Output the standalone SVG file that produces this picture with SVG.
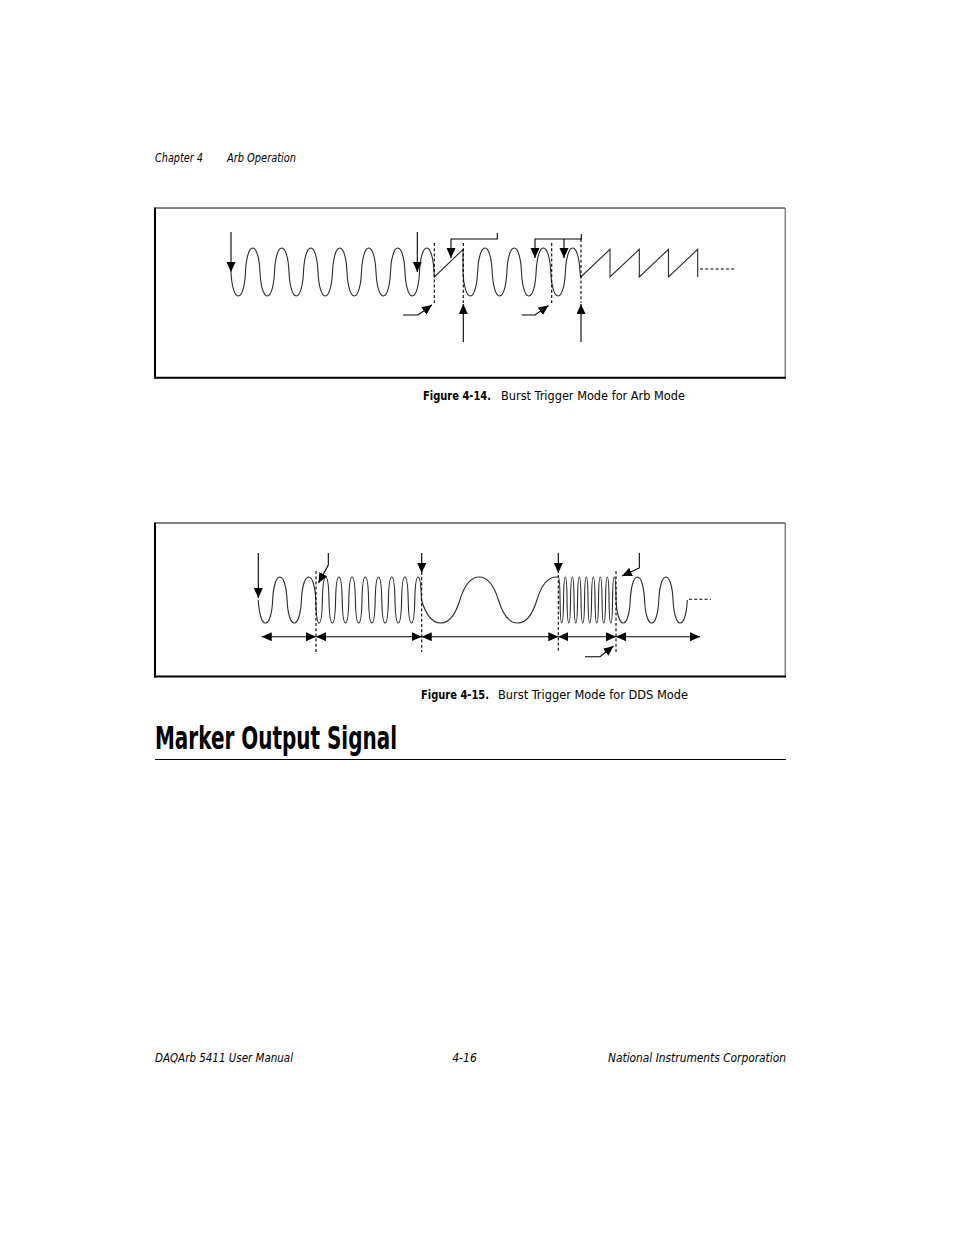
<svg xmlns="http://www.w3.org/2000/svg" width="954" height="1235" viewBox="0 0 954 1235">
<style>
.txt{font-family:"Liberation Sans Narrow","DejaVu Sans Condensed","Liberation Sans",sans-serif;fill:#000}
.it{font-style:italic;font-size:12px}
.cap{font-size:12.5px}
.b{font-weight:bold}
.wave{fill:none;stroke:#2a2a2a;stroke-width:1.1}
.ln{fill:none;stroke:#000;stroke-width:1.1}
.dash{fill:none;stroke:#000;stroke-width:1.1;stroke-dasharray:3,2.2}
.arr{marker-end:url(#ah)}
.dim{marker-start:url(#ahs);marker-end:url(#ah)}
</style>
<defs>
<marker id="ah" markerUnits="userSpaceOnUse" markerWidth="11" markerHeight="10" refX="10" refY="4.5" orient="auto"><path d="M0,0L10,4.5L0,9z" fill="#000"/></marker>
<marker id="ahs" markerUnits="userSpaceOnUse" markerWidth="11" markerHeight="10" refX="10" refY="4.5" orient="auto-start-reverse"><path d="M0,0L10,4.5L0,9z" fill="#000"/></marker>
</defs>
<rect width="954" height="1235" fill="#fff"/>

<g id="header">
<text class="txt it" x="155" y="162" textLength="48" lengthAdjust="spacingAndGlyphs">Chapter 4</text>
<text class="txt it" x="227" y="162" textLength="69" lengthAdjust="spacingAndGlyphs">Arb Operation</text>
</g>

<g id="figure-4-14">
<line x1="155" y1="208" x2="785" y2="208" stroke="#000" stroke-width="1"/>
<line x1="785.2" y1="208" x2="785.2" y2="378" stroke="#444" stroke-width="1"/>
<line x1="155" y1="207.5" x2="155" y2="378.7" stroke="#000" stroke-width="2"/>
<line x1="154" y1="377.7" x2="786" y2="377.7" stroke="#000" stroke-width="2"/>
<path id="arb-waveform" class="wave" d="M231,272
c0.58,13.2 3.263,24 7.25,24 c3.988,0 6.67,-10.8 7.25,-24 c0.58,-13.2 3.263,-24 7.25,-24 c3.988,0 6.67,10.8 7.25,24
c0.58,13.2 3.263,24 7.25,24 c3.988,0 6.67,-10.8 7.25,-24 c0.58,-13.2 3.263,-24 7.25,-24 c3.988,0 6.67,10.8 7.25,24
c0.58,13.2 3.263,24 7.25,24 c3.988,0 6.67,-10.8 7.25,-24 c0.58,-13.2 3.263,-24 7.25,-24 c3.988,0 6.67,10.8 7.25,24
c0.58,13.2 3.263,24 7.25,24 c3.988,0 6.67,-10.8 7.25,-24 c0.58,-13.2 3.263,-24 7.25,-24 c3.988,0 6.67,10.8 7.25,24
c0.58,13.2 3.263,24 7.25,24 c3.988,0 6.67,-10.8 7.25,-24 c0.58,-13.2 3.263,-24 7.25,-24 c3.988,0 6.67,10.8 7.25,24
c0.58,13.2 3.263,24 7.25,24 c3.988,0 6.67,-10.8 7.25,-24 c0.58,-13.2 3.263,-24 7.25,-24 c3.988,0 6.67,10.8 7.25,24
c0.58,13.2 3.263,24 7.25,24 c3.988,0 6.67,-10.8 7.25,-24 c0.58,-13.2 3.263,-24 7.25,-24 c3.988,0 6.67,10.8 7.25,24
L434.3,277 L463,249.5 L463,272
c0.585,13.2 3.291,24 7.3125,24 c4.022,0 6.728,-10.8 7.3125,-24 c0.585,-13.2 3.291,-24 7.3125,-24 c4.022,0 6.728,10.8 7.3125,24
c0.585,13.2 3.291,24 7.3125,24 c4.022,0 6.728,-10.8 7.3125,-24 c0.585,-13.2 3.291,-24 7.3125,-24 c4.022,0 6.728,10.8 7.3125,24
c0.585,13.2 3.291,24 7.3125,24 c4.022,0 6.728,-10.8 7.3125,-24 c0.585,-13.2 3.291,-24 7.3125,-24 c4.022,0 6.728,10.8 7.3125,24
c0.585,13.2 3.291,24 7.3125,24 c4.022,0 6.728,-10.8 7.3125,-24 c0.585,-13.2 3.291,-24 7.3125,-24 c4.022,0 6.728,10.8 7.3125,24
L580.7,277 L610,249.3 L610,277 L639.3,249.3 L639.3,277 L668.5,249.3 L668.5,277 L697.7,249.3 L697.7,277"/>
<line class="dash" x1="700" y1="269" x2="736" y2="269"/>
</g>

<g id="figure-4-15">
<line x1="155" y1="523" x2="785" y2="523" stroke="#000" stroke-width="1"/>
<line x1="785.2" y1="523" x2="785.2" y2="677" stroke="#444" stroke-width="1"/>
<line x1="155" y1="522.5" x2="155" y2="677.5" stroke="#000" stroke-width="2"/>
<line x1="154" y1="676.5" x2="786" y2="676.5" stroke="#000" stroke-width="2"/>
<path id="dds-waveform" class="wave" d="M258.3,600
c0.575,12.65 3.234,23 7.1875,23 c3.953,0 6.613,-10.35 7.1875,-23 c0.575,-12.65 3.234,-23 7.1875,-23 c3.953,0 6.613,10.35 7.1875,23
c0.575,12.65 3.234,23 7.1875,23 c3.953,0 6.613,-10.35 7.1875,-23 c0.575,-12.65 3.234,-23 7.1875,-23 c3.953,0 6.613,10.35 7.1875,23
c0.264,12.65 1.485,23 3.3,23 c1.815,0 3.036,-10.35 3.3,-23 c0.264,-12.65 1.485,-23 3.3,-23 c1.815,0 3.036,10.35 3.3,23
c0.264,12.65 1.485,23 3.3,23 c1.815,0 3.036,-10.35 3.3,-23 c0.264,-12.65 1.485,-23 3.3,-23 c1.815,0 3.036,10.35 3.3,23
c0.264,12.65 1.485,23 3.3,23 c1.815,0 3.036,-10.35 3.3,-23 c0.264,-12.65 1.485,-23 3.3,-23 c1.815,0 3.036,10.35 3.3,23
c0.264,12.65 1.485,23 3.3,23 c1.815,0 3.036,-10.35 3.3,-23 c0.264,-12.65 1.485,-23 3.3,-23 c1.815,0 3.036,10.35 3.3,23
c0.264,12.65 1.485,23 3.3,23 c1.815,0 3.036,-10.35 3.3,-23 c0.264,-12.65 1.485,-23 3.3,-23 c1.815,0 3.036,10.35 3.3,23
c0.264,12.65 1.485,23 3.3,23 c1.815,0 3.036,-10.35 3.3,-23 c0.264,-12.65 1.485,-23 3.3,-23 c1.815,0 3.036,10.35 3.3,23
c0.264,12.65 1.485,23 3.3,23 c1.815,0 3.036,-10.35 3.3,-23 c0.264,-12.65 1.485,-23 3.3,-23 c1.815,0 3.036,10.35 3.3,23
c0.264,12.65 1.485,23 3.3,23 c1.815,0 3.036,-10.35 3.3,-23 c0.264,-12.65 1.485,-23 3.3,-23 c1.815,0 3.036,10.35 3.3,23
c3.85,12.65 9.625,23 19.25,23 c9.625,0 15.4,-10.35 19.25,-23 c3.85,-12.65 9.625,-23 19.25,-23 c9.625,0 15.4,10.35 19.25,23
c3.85,12.65 9.625,23 19.25,23 c9.625,0 15.4,-10.35 19.25,-23 c3.85,-12.65 9.625,-23 19.25,-23
L558.3,577
c0.963,0 1.61,10.35 1.75,23
c0.14,12.65 0.788,23 1.75,23 c0.963,0 1.61,-10.35 1.75,-23 c0.14,-12.65 0.788,-23 1.75,-23 c0.963,0 1.61,10.35 1.75,23
c0.14,12.65 0.788,23 1.75,23 c0.963,0 1.61,-10.35 1.75,-23 c0.14,-12.65 0.788,-23 1.75,-23 c0.963,0 1.61,10.35 1.75,23
c0.14,12.65 0.788,23 1.75,23 c0.963,0 1.61,-10.35 1.75,-23 c0.14,-12.65 0.788,-23 1.75,-23 c0.963,0 1.61,10.35 1.75,23
c0.14,12.65 0.788,23 1.75,23 c0.963,0 1.61,-10.35 1.75,-23 c0.14,-12.65 0.788,-23 1.75,-23 c0.963,0 1.61,10.35 1.75,23
c0.14,12.65 0.788,23 1.75,23 c0.963,0 1.61,-10.35 1.75,-23 c0.14,-12.65 0.788,-23 1.75,-23 c0.963,0 1.61,10.35 1.75,23
c0.14,12.65 0.788,23 1.75,23 c0.963,0 1.61,-10.35 1.75,-23 c0.14,-12.65 0.788,-23 1.75,-23 c0.963,0 1.61,10.35 1.75,23
c0.14,12.65 0.788,23 1.75,23 c0.963,0 1.61,-10.35 1.75,-23 c0.14,-12.65 0.788,-23 1.75,-23 c0.963,0 1.61,10.35 1.75,23
c0.14,12.65 0.788,23 1.75,23 c0.963,0 1.61,-10.35 1.75,-23 c0.14,-12.65 0.788,-23 1.75,-23 c0.963,0 1.61,10.35 1.75,23
c0.57,12.65 3.206,23 7.125,23 c3.919,0 6.555,-10.35 7.125,-23 c0.57,-12.65 3.206,-23 7.125,-23 c3.919,0 6.555,10.35 7.125,23
c0.57,12.65 3.206,23 7.125,23 c3.919,0 6.555,-10.35 7.125,-23 c0.57,-12.65 3.206,-23 7.125,-23 c3.919,0 6.555,10.35 7.125,23
c0.57,12.65 3.206,23 7.125,23 c3.919,0 6.555,-10.35 7.125,-23"/>
<line class="dash" x1="689" y1="599.3" x2="711" y2="599.3"/>
</g>

<g id="connectors">
<line class="ln arr" x1="231" y1="232" x2="231" y2="272"/>
<line class="ln arr" x1="417.3" y1="232" x2="417.3" y2="272"/>
<polyline class="ln arr" points="403,315 418,315 432,305"/>
<polyline class="ln arr" points="497.3,233 497.3,239 451,239 451,258"/>
<line class="ln arr" x1="463.3" y1="342" x2="463.3" y2="304"/>
<polyline class="ln arr" points="521.7,315 535,315 548.5,305.5"/>
<polyline class="ln arr" points="581.3,234 581.3,239 535,239 535,258"/>
<line class="ln arr" x1="564" y1="239" x2="564" y2="258"/>
<line class="ln arr" x1="581" y1="342" x2="581" y2="304"/>
<line class="dash" x1="434.3" y1="243" x2="434.3" y2="303"/>
<line class="dash" x1="463.3" y1="243" x2="463.3" y2="303"/>
<line class="dash" x1="551.7" y1="243" x2="551.7" y2="303"/>
<line class="dash" x1="581" y1="239" x2="581" y2="303"/>

<line class="ln arr" x1="258.3" y1="553" x2="258.3" y2="598"/>
<polyline class="ln arr" points="328.3,553 328.3,565 318.5,583"/>
<line class="ln arr" x1="421.7" y1="553" x2="421.7" y2="573"/>
<line class="ln arr" x1="558.3" y1="553" x2="558.3" y2="573"/>
<polyline class="ln arr" points="639.3,553 639.3,568 622,576"/>
<polyline class="ln arr" points="585,656.7 600,656.7 613.5,646"/>
<line class="ln dim" x1="261.7" y1="636.7" x2="316" y2="636.7"/>
<line class="ln dim" x1="316" y1="636.7" x2="421.7" y2="636.7"/>
<line class="ln dim" x1="421.7" y1="636.7" x2="558.3" y2="636.7"/>
<line class="ln dim" x1="558.3" y1="636.7" x2="616" y2="636.7"/>
<line class="ln dim" x1="616" y1="636.7" x2="700" y2="636.7"/>
<line class="dash" x1="316" y1="571" x2="316" y2="652"/>
<line class="dash" x1="421.7" y1="572" x2="421.7" y2="652"/>
<line class="dash" x1="558.3" y1="575" x2="558.3" y2="652"/>
<line class="dash" x1="616" y1="571" x2="616" y2="652"/>
</g>

<g id="captions">
<text class="txt cap b" x="423" y="399.5" textLength="68" lengthAdjust="spacingAndGlyphs">Figure 4-14.</text>
<text class="txt cap" x="501" y="399.5" textLength="184" lengthAdjust="spacingAndGlyphs">Burst Trigger Mode for Arb Mode</text>
<text class="txt cap b" x="421" y="698.5" textLength="68" lengthAdjust="spacingAndGlyphs">Figure 4-15.</text>
<text class="txt cap" x="498" y="698.5" textLength="190" lengthAdjust="spacingAndGlyphs">Burst Trigger Mode for DDS Mode</text>
</g>

<g id="section-heading">
<text class="txt b" x="155" y="749" font-size="32" textLength="242" lengthAdjust="spacingAndGlyphs">Marker Output Signal</text>
<line x1="155" y1="759.5" x2="786" y2="759.5" stroke="#000" stroke-width="1"/>
</g>

<g id="footer">
<text class="txt it" x="155" y="1062" textLength="138" lengthAdjust="spacingAndGlyphs">DAQArb 5411 User Manual</text>
<text class="txt it" x="464.5" y="1062" text-anchor="middle">4-16</text>
<text class="txt it" x="608" y="1062" textLength="178" lengthAdjust="spacingAndGlyphs">National Instruments Corporation</text>
</g>
</svg>
